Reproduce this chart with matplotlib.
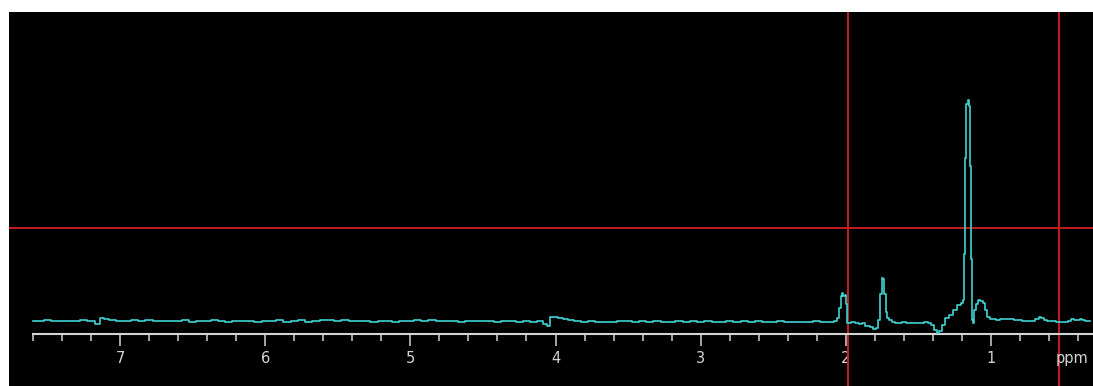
import matplotlib
matplotlib.use("Agg")
import matplotlib.pyplot as plt
from matplotlib.ticker import FixedLocator

# chemical shift (ppm) and intensity of the 1H trace
ppm = [
    7.60, 7.55, 7.50, 7.45, 7.40, 7.35, 7.30, 7.25, 7.20, 7.15, 7.12, 7.10,
    7.05, 7.00, 6.95, 6.90, 6.85, 6.80, 6.75, 6.70, 6.65, 6.60, 6.55, 6.50,
    6.45, 6.40, 6.35, 6.30, 6.25, 6.20, 6.15, 6.10, 6.05, 6.00, 5.95, 5.90,
    5.85, 5.80, 5.75, 5.70, 5.65, 5.60, 5.55, 5.50, 5.45, 5.40, 5.35, 5.30,
    5.25, 5.20, 5.15, 5.10, 5.05, 5.00, 4.95, 4.90, 4.85, 4.80, 4.75, 4.70,
    4.65, 4.60, 4.55, 4.50, 4.45, 4.40, 4.35, 4.30, 4.25, 4.20, 4.15, 4.10,
    4.07, 4.05, 4.03, 4.00, 3.97, 3.93, 3.90, 3.85, 3.80, 3.75, 3.70, 3.65,
    3.60, 3.55, 3.50, 3.45, 3.40, 3.35, 3.30, 3.25, 3.20, 3.15, 3.10, 3.05,
    3.00, 2.95, 2.90, 2.85, 2.80, 2.75, 2.70, 2.65, 2.60, 2.55, 2.50, 2.45,
    2.40, 2.35, 2.30, 2.25, 2.20, 2.15, 2.10, 2.07, 2.055, 2.04, 2.03, 2.022,
    2.012, 2.003, 1.995, 1.988, 1.98, 1.95, 1.92, 1.90, 1.88, 1.85, 1.82, 1.80,
    1.785, 1.77, 1.758, 1.748, 1.738, 1.730, 1.72, 1.71, 1.69, 1.67, 1.65, 1.62,
    1.60, 1.57, 1.54, 1.51, 1.48, 1.45, 1.42, 1.40, 1.38, 1.365, 1.35, 1.33,
    1.30, 1.28, 1.25, 1.22, 1.20, 1.19, 1.182, 1.175, 1.165, 1.158, 1.150, 1.142,
    1.135, 1.128, 1.122, 1.11, 1.095, 1.08, 1.065, 1.05, 1.035, 1.015, 1.00, 0.98,
    0.95, 0.92, 0.89, 0.86, 0.83, 0.80, 0.77, 0.74, 0.71, 0.68, 0.66, 0.645,
    0.63, 0.60, 0.57, 0.54, 0.51, 0.48, 0.46, 0.44, 0.42, 0.40, 0.38, 0.36,
    0.34, 0.32,
]
intensity = [
    12.5, 12.8, 13.5, 12.6, 12.4, 13.0, 12.2, 13.6, 12.8, 9.8, 15.6, 14.2,
    13.2, 13.0, 12.4, 13.4, 12.6, 13.8, 12.4, 13.0, 12.2, 12.6, 13.4, 11.8,
    12.8, 12.4, 13.6, 12.6, 12.0, 12.8, 12.4, 12.2, 11.6, 12.4, 12.8, 13.2,
    11.8, 12.6, 13.4, 11.6, 12.4, 14.0, 13.2, 12.8, 13.4, 12.2, 13.0, 12.4,
    11.8, 12.6, 12.8, 11.4, 12.6, 12.8, 13.2, 12.4, 14.0, 12.8, 12.4, 12.8,
    11.8, 12.4, 13.0, 12.2, 12.6, 11.6, 12.6, 12.2, 11.8, 12.4, 11.8, 12.2,
    10.0, 7.4, 16.8, 16.4, 15.6, 14.8, 13.8, 13.0, 12.0, 12.4, 11.6, 12.0,
    11.2, 12.4, 12.6, 12.0, 12.4, 11.8, 12.2, 11.4, 12.0, 12.4, 11.6, 12.2,
    11.8, 12.4, 11.6, 12.0, 12.6, 11.4, 12.2, 11.8, 12.4, 11.2, 11.8, 12.4,
    11.6, 12.0, 11.2, 11.6, 12.2, 11.4, 11.8, 12.5, 16.0, 26.0, 38.0, 41.0,
    38.0, 39.0, 30.0, 11.0, 10.8, 11.5, 11.0, 9.5, 10.2, 8.0, 6.5, 5.0,
    6.0, 14.0, 40.0, 56.0, 55.0, 40.0, 22.0, 15.5, 14.0, 11.5, 10.8, 10.2,
    11.4, 10.6, 10.2, 11.0, 10.4, 11.2, 10.6, 9.0, 4.0, 1.0, 2.5, 9.0,
    16.0, 18.5, 24.0, 29.0, 31.0, 34.0, 80.0, 176.0, 230.0, 233.5, 228.0, 168.0,
    75.0, 14.0, 10.5, 24.0, 30.0, 33.5, 33.0, 31.0, 24.0, 17.0, 15.0, 14.5,
    14.0, 15.0, 14.2, 14.6, 13.6, 14.0, 12.6, 12.2, 12.8, 14.5, 16.8, 16.0,
    13.2, 12.8, 12.4, 11.6, 11.4, 11.8, 13.0, 14.5, 13.8, 13.2, 14.8, 13.4,
    12.8, 12.5,
]

# cursor cross-hair
cursor_ppm = [1.986, 0.533]
cursor_level = 105.5

major_ticks = [7, 6, 5, 4, 3, 2, 1]
minor_ticks = [7.6, 7.4, 7.2, 6.8, 6.6, 6.4, 6.2, 5.8, 5.6, 5.4, 5.2,
               4.8, 4.6, 4.4, 4.2, 3.8, 3.6, 3.4, 3.2, 2.8, 2.6, 2.4, 2.2,
               1.8, 1.6, 1.4, 1.2, 0.8, 0.6, 0.4]
unit_label = "ppm"
unit_pos = 0.44

fg = "#d4d4d4"
trace_col = "#3fd3d3"
cursor_col = "#c81c1c"

fig = plt.figure(figsize=(10.93, 3.86), dpi=100, facecolor="white")
ax = fig.add_axes([9 / 1093, 0, 1 - 9 / 1093, 374 / 386])
ax.set_facecolor("black")

ax.plot(ppm, intensity, color=trace_col, lw=1.2, drawstyle="steps-mid",
        zorder=3)

for c in cursor_ppm:
    ax.axvline(c, color=cursor_col, lw=1.4, zorder=2)
ax.axhline(cursor_level, color=cursor_col, lw=1.4, zorder=2)

ax.set_xlim(7.7645, 0.2975)
ax.set_ylim(-52.5, 321.5)

for side in ["top", "left", "right"]:
    ax.spines[side].set_visible(False)
sp = ax.spines["bottom"]
sp.set_position(("data", 0))
sp.set_bounds(7.6, 0.2975)
sp.set_color(fg)
sp.set_linewidth(1.5)

ax.xaxis.set_major_locator(FixedLocator(major_ticks))
ax.xaxis.set_minor_locator(FixedLocator(minor_ticks))
ax.tick_params(axis="x", which="major", direction="out", length=8.5,
               width=1.1, color=fg, labelcolor=fg, labelsize=10.5, pad=4)
ax.tick_params(axis="x", which="minor", direction="out", length=5,
               width=1.1, color=fg)
ax.set_yticks([])

# unit text sits on the tick-label row
lbl_y = (386 - 351.5) / 374
ax.text(unit_pos, lbl_y, unit_label, transform=ax.get_xaxis_transform(),
        ha="center", va="top", color=fg, fontsize=10.5)

fig.savefig("out.png", dpi=100, facecolor="white")
